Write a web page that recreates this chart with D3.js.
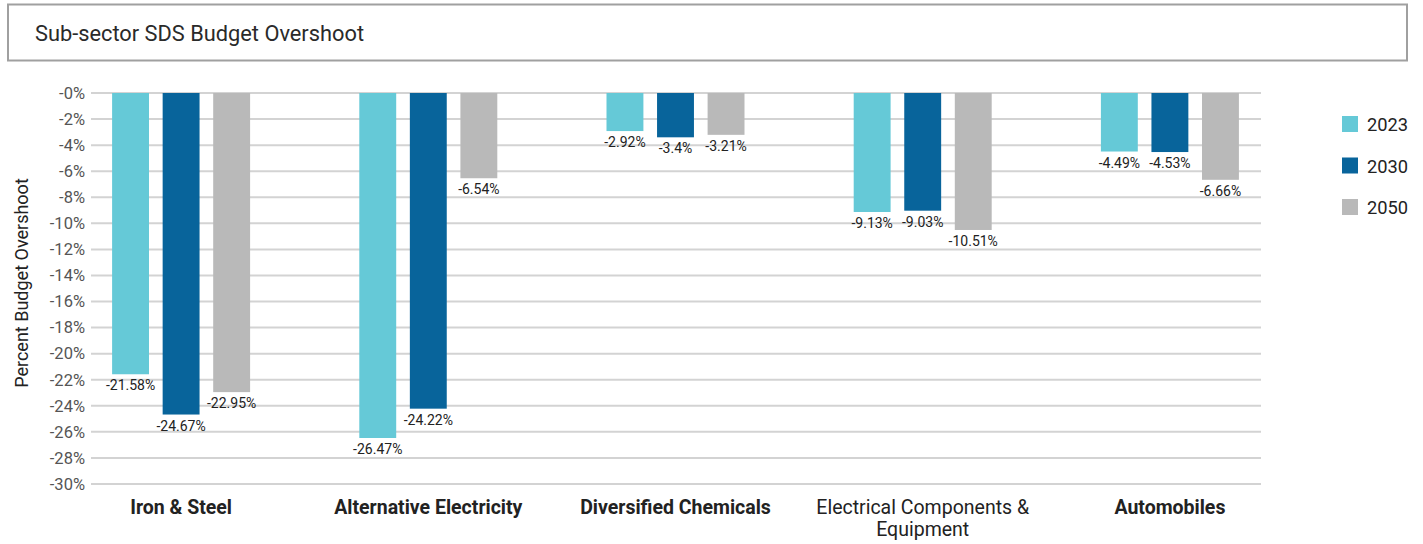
<!DOCTYPE html>
<html>
<head>
<meta charset="utf-8">
<script src="https://cdn.jsdelivr.net/npm/d3@7"></script>
<style>
  html, body { margin: 0; padding: 0; background: #fff; }
  svg { display: block; font-family: Roboto, "Noto Sans", sans-serif; }
</style>
</head>
<body>
<svg id="chart" width="1423" height="544"></svg>
<script>
// Sub-sector overshoot of the SDS budget, in percent, per scenario year
const categories = ["Iron & Steel", "Alternative Electricity", "Diversified Chemicals", "Electrical Components & Equipment", "Automobiles"];
const categoryBold = [true, true, true, false, true];
const years = ["2023", "2030", "2050"];
const values2023 = [-21.58, -26.47, -2.92, -9.13, -4.49];
const values2030 = [-24.67, -24.22, -3.4, -9.03, -4.53];
const values2050 = [-22.95, -6.54, -3.21, -10.51, -6.66];
const yTicks = [0, -2, -4, -6, -8, -10, -12, -14, -16, -18, -20, -22, -24, -26, -28, -30];
const colors = ["#65c9d7", "#08649b", "#b9b9b9"];

const seriesValues = [values2023, values2030, values2050];

const svg = d3.select("#chart");

// Title box
svg.append("rect")
  .attr("x", 8).attr("y", 4.5)
  .attr("width", 1399).attr("height", 56)
  .attr("fill", "#fff").attr("stroke", "#a0a0a0").attr("stroke-width", 2);
svg.append("text")
  .attr("x", 35).attr("y", 41)
  .attr("font-size", 21.8).attr("fill", "#2a2a2a")
  .text("Sub-sector SDS Budget Overshoot");

const plotLeft = 91, plotRight = 1261;
const y = d3.scaleLinear().domain([0, -30]).range([93, 484]);

const x0 = d3.scaleBand().domain(categories).range([57.5, 1293.5]).paddingInner(0).paddingOuter(0);
const x1 = d3.scaleBand().domain(years).range([0, 138]).paddingInner(0.27).paddingOuter(0);
const groupOffset = (x0.bandwidth() - 138) / 2;

// Grid lines
svg.append("g").selectAll("line")
  .data(yTicks).join("line")
  .attr("x1", plotLeft).attr("x2", plotRight)
  .attr("y1", d => y(d)).attr("y2", d => y(d))
  .attr("stroke", "#d3d3d3").attr("stroke-width", 2);

// Y axis labels
const yAxis = d3.axisLeft(y).tickValues(yTicks).tickSize(0).tickPadding(0)
  .tickFormat(d => "-" + Math.abs(d) + "%");
const yg = svg.append("g").attr("transform", `translate(${plotLeft - 6},0)`).call(yAxis);
yg.select(".domain").remove();
yg.selectAll("text").attr("font-size", 16.5).attr("fill", "#555").attr("font-family", "Roboto, sans-serif");

// Y axis title
svg.append("text")
  .attr("transform", "translate(28,283) rotate(-90)")
  .attr("text-anchor", "middle")
  .attr("font-size", 18).attr("fill", "#222")
  .text("Percent Budget Overshoot");

// Bars and value labels
const groups = svg.append("g").selectAll("g")
  .data(categories).join("g")
  .attr("transform", c => `translate(${x0(c) + groupOffset},0)`);

groups.each(function(c, ci) {
  const g = d3.select(this);
  years.forEach((yr, si) => {
    const v = seriesValues[si][ci];
    g.append("rect")
      .attr("x", x1(yr)).attr("y", y(0))
      .attr("width", x1.bandwidth()).attr("height", y(v) - y(0))
      .attr("fill", colors[si]);
    g.append("text")
      .attr("x", x1(yr) + x1.bandwidth() / 2)
      .attr("y", y(v) + 16)
      .attr("text-anchor", "middle")
      .attr("font-size", 14).attr("fill", "#222")
      .text(v + "%");
  });
});

// Category labels
const xLabels = svg.append("g").selectAll("text")
  .data(categories).join("text")
  .attr("text-anchor", "middle")
  .attr("font-size", 19.5)
  .attr("fill", "#222")
  .attr("font-weight", (d, i) => categoryBold[i] ? "bold" : "normal")
  .attr("transform", d => `translate(${x0(d) + x0.bandwidth() / 2},514)`);

xLabels.each(function(d) {
  const t = d3.select(this);
  if (d === "Electrical Components & Equipment") {
    t.append("tspan").attr("x", 0).attr("dy", 0).text("Electrical Components &");
    t.append("tspan").attr("x", 0).attr("dy", 22).text("Equipment");
  } else {
    t.text(d);
  }
});

// Legend
const legend = svg.append("g").selectAll("g")
  .data(years).join("g")
  .attr("transform", (d, i) => `translate(1342,${116 + i * 41.5})`);
legend.append("rect").attr("width", 16).attr("height", 16).attr("fill", (d, i) => colors[i]);
legend.append("text").attr("x", 25).attr("y", 15)
  .attr("font-size", 18.3).attr("fill", "#222").text(d => d);
</script>
</body>
</html>
